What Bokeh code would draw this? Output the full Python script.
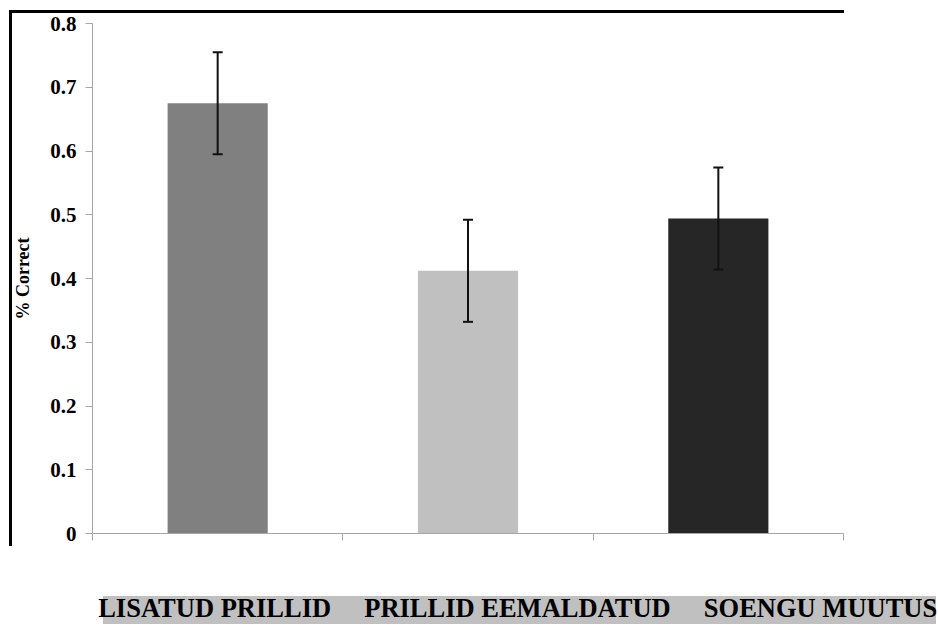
from bokeh.plotting import figure
from bokeh.models import (ColumnDataSource, Whisker, TeeHead, Range1d, FixedTicker)
from bokeh.embed import file_html
from bokeh.resources import INLINE

categories = ["LISATUD PRILLID", "PRILLID EEMALDATUD", "SOENGU MUUTUS"]
values = [0.675, 0.412, 0.494]
errors = [0.08, 0.08, 0.08]
colors = ["#808080", "#c0c0c0", "#262626"]
y_ticks = [0, 0.1, 0.2, 0.3, 0.4, 0.5, 0.6, 0.7, 0.8]
y_tick_labels = ["0", "0.1", "0.2", "0.3", "0.4", "0.5", "0.6", "0.7", "0.8"]

xpos = [i + 0.5 for i in range(len(categories))]
src = ColumnDataSource(dict(
    x=xpos, top=values, color=colors,
    lower=[v - e for v, e in zip(values, errors)],
    upper=[v + e for v, e in zip(values, errors)],
))

FONT = "Liberation Serif"

W, H = 938, 625
FL, FR, FT, FB = 92, 843, 23, 533   # frame edges on the page

p = figure(width=W, height=H, output_backend="svg", toolbar_location=None,
           x_range=Range1d(0, len(categories)), y_range=Range1d(0, 0.8),
           min_border_left=FL, min_border_right=W - FR, min_border_top=FT,
           min_border_bottom=H - FB)
p.outline_line_color = None
p.xgrid.grid_line_color = None
p.ygrid.grid_line_color = None
p.background_fill_color = None
p.border_fill_color = None
# black top/left frame lines and grey band behind the category names
p.styles = {
    "background": (
        "linear-gradient(#000,#000) 9px 10px / 3px 536px no-repeat, "
        "linear-gradient(#000,#000) 9px 10px / 835px 3px no-repeat, "
        "linear-gradient(#c0c0c0,#c0c0c0) 103px 596px / 833px 28px no-repeat, "
        "#ffffff"
    )
}

p.vbar(x="x", top="top", width=0.4, bottom=0, fill_color="color",
       line_color=None, source=src)

w = Whisker(base="x", lower="lower", upper="upper", source=src, level="annotation",
            line_color="#111111", line_width=2,
            upper_head=TeeHead(size=10, line_color="#111111", line_width=2),
            lower_head=TeeHead(size=10, line_color="#111111", line_width=2))
p.add_layout(w)

# y axis
p.yaxis.ticker = FixedTicker(ticks=y_ticks)
p.yaxis.major_label_overrides = {t: l for t, l in zip(y_ticks, y_tick_labels)}
p.yaxis.minor_tick_line_color = None
p.yaxis.major_tick_in = 0
p.yaxis.major_tick_out = 7
p.yaxis.axis_line_color = "#a6a6a6"
p.yaxis.major_tick_line_color = "#a6a6a6"
p.yaxis.major_label_text_font = FONT
p.yaxis.major_label_text_font_style = "bold"
p.yaxis.major_label_text_font_size = "21px"
p.yaxis.major_label_text_color = "black"
p.yaxis.major_label_standoff = 9
p.yaxis.axis_label = "% Correct"
p.yaxis.axis_label_text_font = FONT
p.yaxis.axis_label_text_font_style = "bold"
p.yaxis.axis_label_text_font_size = "18px"
p.yaxis.axis_label_text_color = "black"
p.yaxis.axis_label_standoff = 14

# x axis (category boundaries as ticks; names shown in the band as the axis label)
gap = " \u00a0 \u00a0 "
lead = "\u00a0" * 15
p.xaxis.ticker = FixedTicker(ticks=list(range(len(categories) + 1)))
p.xaxis.minor_tick_line_color = None
p.xaxis.major_tick_in = 0
p.xaxis.major_tick_out = 7
p.xaxis.axis_line_color = "#a6a6a6"
p.xaxis.major_tick_line_color = "#a6a6a6"
p.xaxis.major_label_text_font_size = "0px"
p.xaxis.major_label_text_color = None
p.xaxis.major_label_standoff = 0
p.xaxis.axis_label = lead + gap.join(categories)
p.xaxis.axis_label_align = "center"
p.xaxis.axis_label_standoff = 52
p.xaxis.axis_label_text_font = FONT
p.xaxis.axis_label_text_font_style = "bold"
p.xaxis.axis_label_text_font_size = "26.5px"
p.xaxis.axis_label_text_color = "black"

open("out.html", "w").write(file_html(p, INLINE))
